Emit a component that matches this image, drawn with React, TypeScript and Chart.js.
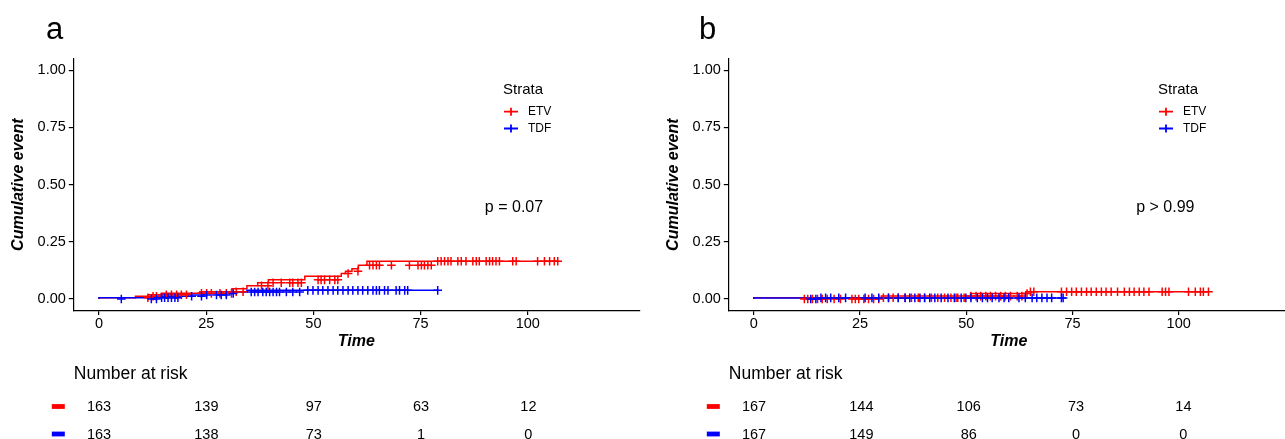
import React, { useEffect, useRef } from "react";
import { Chart, registerables } from "chart.js";

Chart.register(...registerables);

const FONT = "'Liberation Sans', Arial, Helvetica, sans-serif";
const RED = "#FF0000";
const BLUE = "#0000FF";

// ---------- shared ----------
const timeTicks = [0, 25, 50, 75, 100];
const yTicks = [0, 0.25, 0.5, 0.75, 1];
const strata = ["ETV", "TDF"];
const strataColors = [RED, BLUE];
const pCoord = [90, 0.4];

// ---------- panel a ----------
const etvA_stepTimes = [0, 8.5, 11.5, 14.5, 23.5, 31, 34.5, 37, 39.5, 48, 56.5, 57.5, 59, 60.5, 62.5, 78.5];
const etvA_stepCum = [0, 0.006, 0.012, 0.019, 0.025, 0.032, 0.045, 0.058, 0.071, 0.084, 0.1, 0.112, 0.122, 0.132, 0.148, 0.165];
const etvA_censor = [11.4, 12.6, 13.4, 15.7, 16.9, 18.1, 19.2, 20.4, 23.9, 25.1, 26.2, 28.2, 29.7, 30.9, 32, 33.6, 37.9, 39.4, 40.6, 42.5, 44.5, 45.2, 46.4, 47.2, 51.1, 51.8, 52.6, 53.8, 55, 55.7, 58.1, 60.4, 63.1, 63.9, 64.7, 65.4, 68.2, 72.4, 74.4, 75.2, 75.9, 76.7, 77.5, 79, 79.8, 80.6, 81.4, 82.1, 83.7, 84.5, 85.6, 87.2, 88, 88.7, 90.3, 91.1, 91.8, 92.6, 93.4, 96.5, 97.3, 102.3, 103.9, 105.1, 106.2, 107];

const tdfA_stepTimes = [0, 14, 21.5, 24.5, 31, 34.5, 48];
const tdfA_stepCum = [0, 0.006, 0.012, 0.018, 0.024, 0.031, 0.038];
const tdfA_censor = [5.2, 12.2, 13.4, 14.6, 15.3, 16.1, 16.9, 17.7, 18.4, 21.6, 23.9, 25.1, 27.4, 28.5, 29.7, 31.3, 35.5, 36.3, 37.1, 38.2, 39, 39.8, 40.6, 41.4, 42.1, 43.7, 45.2, 46.8, 48.7, 49.9, 51.1, 52.2, 53.4, 54.6, 55.7, 56.9, 58.1, 59.2, 60.4, 61.5, 62.7, 63.9, 64.7, 65.4, 66.6, 67.4, 69.3, 70.1, 71.3, 72, 79];

const riskA_ETV = [163, 139, 97, 63, 12];
const riskA_TDF = [163, 138, 73, 1, 0];
const pTextA = "p = 0.07";

// ---------- panel b ----------
const etvB_stepTimes = [0, 30, 51, 64, 65];
const etvB_stepCum = [0, 0.006, 0.013, 0.024, 0.032];
const etvB_censor = [11.9, 12.7, 13.8, 15, 16.1, 17.3, 18.9, 20.4, 23.1, 23.9, 24.7, 25.9, 27, 28.2, 29.4, 30.5, 31.7, 32.8, 34, 35.6, 37.1, 38.7, 40.2, 41.8, 43.3, 44.9, 46.4, 47.6, 48, 49.5, 51.1, 52.3, 53.4, 54.6, 55.7, 56.9, 58.1, 59.2, 60.4, 62, 63.1, 64.3, 65.1, 65.9, 72.4, 73.6, 74.8, 75.9, 77.1, 78.3, 79.4, 80.6, 81.8, 82.9, 84.1, 85.6, 87.2, 88.4, 89.5, 90.7, 91.8, 93, 96.1, 96.9, 97.7, 102.3, 103.9, 105.1, 105.8, 107];

const tdfB_stepTimes = [0, 15];
const tdfB_stepCum = [0, 0.005];
const tdfB_censor = [13.4, 14.6, 15.8, 16.9, 18.1, 20, 21.6, 26.2, 27.8, 29.4, 31.7, 34, 35.6, 36.7, 37.9, 39.1, 40.2, 41.4, 42.6, 44.1, 45.7, 47.2, 48.8, 49.9, 51.1, 52.6, 53.8, 55, 56.1, 57.7, 58.9, 60, 62.4, 63.9, 65.5, 66.6, 67.8, 69, 70.1, 72.4, 72.8];

const riskB_ETV = [167, 144, 106, 73, 14];
const riskB_TDF = [167, 149, 86, 0, 0];
const pTextB = "p > 0.99";

// ---------- helpers ----------
function stepAt(times: number[], cum: number[], t: number) {
  let v = cum[0];
  for (let i = 0; i < times.length; i++) if (times[i] <= t) v = cum[i];
  return v;
}
function lineData(times: number[], cum: number[], censor: number[]) {
  const pts = times.map((t, i) => ({ x: t, y: cum[i] }));
  const end = Math.max(...censor);
  pts.push({ x: end, y: cum[cum.length - 1] });
  return pts;
}
function censorData(times: number[], cum: number[], censor: number[]) {
  return censor.map((t) => ({ x: t, y: stepAt(times, cum, t) }));
}

type Curve = { times: number[]; cum: number[]; censor: number[] };

type PanelProps = {
  left: number;
  width: number;
  padRight: number;
  letter: string;
  letterX: number;
  etv: Curve;
  tdf: Curve;
  pText: string;
  riskETV: number[];
  riskTDF: number[];
};

const MAIN_H = 360;
const Y_AXIS_W = 73.3;
const AREA_TOP = 58.8;
const AREA_BOTTOM = 310.5;
const RISK_TOP = 355;
const RISK_H = 100;

function Panel(p: PanelProps) {
  const mainRef = useRef<HTMLCanvasElement>(null);
  const riskRef = useRef<HTMLCanvasElement>(null);

  useEffect(() => {
    const annot = {
      id: "annot",
      afterDraw(chart: any) {
        const ctx = chart.ctx;
        ctx.save();
        ctx.fillStyle = "#000";
        ctx.textAlign = "left";
        ctx.textBaseline = "alphabetic";
        ctx.font = `31px ${FONT}`;
        ctx.fillText(p.letter, p.letterX, 38.5);

        ctx.textBaseline = "middle";
        ctx.font = `15px ${FONT}`;
        ctx.fillText("Strata", 503, 90);
        strata.forEach((s, i) => {
          const y = 111.7 + i * 16.8;
          ctx.strokeStyle = strataColors[i];
          ctx.lineWidth = 1.8;
          ctx.beginPath();
          ctx.moveTo(504, y);
          ctx.lineTo(518, y);
          ctx.moveTo(511, y - 4);
          ctx.lineTo(511, y + 4);
          ctx.stroke();
          ctx.fillStyle = "#000";
          ctx.font = `12px ${FONT}`;
          ctx.fillText(s, 528, y);
        });

        const xs = chart.scales.x;
        const ys = chart.scales.y;
        ctx.font = `16px ${FONT}`;
        ctx.fillText(p.pText, xs.getPixelForValue(pCoord[0]), ys.getPixelForValue(pCoord[1]));
        ctx.restore();
      },
    };

    const axisGrid = {
      display: true,
      drawOnChartArea: false,
      drawTicks: true,
      tickLength: 4.5,
      color: "#000",
      lineWidth: 1.2,
    };

    const main = new Chart(mainRef.current as HTMLCanvasElement, {
      type: "scatter",
      data: {
        datasets: [
          {
            label: "TDF censor",
            data: censorData(p.tdf.times, p.tdf.cum, p.tdf.censor),
            showLine: false,
            pointStyle: "cross",
            pointRadius: 4.3,
            pointBorderWidth: 1.5,
            borderColor: BLUE,
            backgroundColor: BLUE,
          },
          {
            label: "ETV censor",
            data: censorData(p.etv.times, p.etv.cum, p.etv.censor),
            showLine: false,
            pointStyle: "cross",
            pointRadius: 4.3,
            pointBorderWidth: 1.5,
            borderColor: RED,
            backgroundColor: RED,
          },
          {
            label: "TDF",
            data: lineData(p.tdf.times, p.tdf.cum, p.tdf.censor),
            showLine: true,
            stepped: "after",
            pointRadius: 0,
            borderWidth: 1.5,
            borderColor: BLUE,
          },
          {
            label: "ETV",
            data: lineData(p.etv.times, p.etv.cum, p.etv.censor),
            showLine: true,
            stepped: "after",
            pointRadius: 0,
            borderWidth: 1.5,
            borderColor: RED,
          },
        ],
      },
      options: {
        responsive: false,
        animation: false,
        events: [],
        layout: { padding: { top: AREA_TOP, right: p.padRight, bottom: 0, left: 0 } },
        plugins: { legend: { display: false }, tooltip: { enabled: false }, title: { display: false } },
        scales: {
          x: {
            type: "linear",
            min: -6,
            max: 126,
            afterBuildTicks: (s: any) => {
              s.ticks = timeTicks.map((v) => ({ value: v }));
            },
            afterFit: (s: any) => {
              s.height = MAIN_H - AREA_BOTTOM;
            },
            border: { display: true, color: "#000", width: 1.2 },
            grid: axisGrid,
            ticks: { color: "#000", font: { family: FONT, size: 14.5 }, padding: 0.5, maxRotation: 0, callback: (v: any) => String(v) },
            title: {
              display: true,
              text: "Time",
              color: "#000",
              font: { family: FONT, size: 16, style: "italic", weight: "bold" },
              padding: { top: 0, bottom: 8.9 },
            },
          },
          y: {
            type: "linear",
            min: -0.05,
            max: 1.05,
            afterBuildTicks: (s: any) => {
              s.ticks = yTicks.map((v) => ({ value: v }));
            },
            afterFit: (s: any) => {
              s.width = Y_AXIS_W;
            },
            border: { display: true, color: "#000", width: 1.2 },
            grid: axisGrid,
            ticks: { color: "#000", font: { family: FONT, size: 14.5 }, padding: 3, callback: (v: any) => Number(v).toFixed(2) },
            title: {
              display: true,
              text: "Cumulative event",
              color: "#000",
              font: { family: FONT, size: 16, style: "italic", weight: "bold" },
              padding: { top: 9.4, bottom: 0 },
            },
          },
        },
      },
      plugins: [annot],
    } as any);

    const riskCounts = [p.riskETV, p.riskTDF];
    const riskPlugin = {
      id: "riskText",
      afterDraw(chart: any) {
        const ctx = chart.ctx;
        const area = chart.chartArea;
        ctx.save();
        ctx.fillStyle = "#000";
        ctx.textAlign = "left";
        ctx.textBaseline = "middle";
        ctx.font = `17.5px ${FONT}`;
        ctx.fillText("Number at risk", area.left + 0.5, 19);
        chart.data.datasets.forEach((ds: any, di: number) => {
          const meta = chart.getDatasetMeta(di);
          const y = meta.data[0].y;
          ctx.fillStyle = strataColors[di];
          ctx.fillRect(area.left - 21.5, y - 2.4, 13, 4.8);
          ctx.fillStyle = "#000";
          ctx.font = `14.5px ${FONT}`;
          ctx.textAlign = "center";
          meta.data.forEach((pt: any, i: number) => {
            ctx.fillText(String(riskCounts[di][i]), pt.x, pt.y + 0.5);
          });
        });
        ctx.restore();
      },
    };

    // rows: ETV at value 2 -> page y 406.5, TDF at value 1 -> page y 434
    const risk = new Chart(riskRef.current as HTMLCanvasElement, {
      type: "scatter",
      data: {
        datasets: strata.map((s, i) => ({
          label: s,
          data: timeTicks.map((t) => ({ x: t, y: 2 - i })),
          pointRadius: 0,
          showLine: false,
        })),
      },
      options: {
        responsive: false,
        animation: false,
        events: [],
        layout: { padding: { top: 37.75, bottom: RISK_H - 92.75, left: Y_AXIS_W, right: p.padRight } },
        plugins: { legend: { display: false }, tooltip: { enabled: false } },
        scales: {
          x: { type: "linear", min: -6, max: 126, display: false },
          y: { type: "linear", min: 0.5, max: 2.5, display: false },
        },
      },
      plugins: [riskPlugin],
    } as any);

    return () => {
      main.destroy();
      risk.destroy();
    };
  }, []);

  return (
    <>
      <canvas
        ref={mainRef}
        width={p.width}
        height={MAIN_H}
        style={{ position: "absolute", left: p.left, top: 0, width: p.width, height: MAIN_H }}
      />
      <canvas
        ref={riskRef}
        width={p.width}
        height={RISK_H}
        style={{ position: "absolute", left: p.left, top: RISK_TOP, width: p.width, height: RISK_H }}
      />
    </>
  );
}

export default function App() {
  return (
    <div
      style={{
        position: "fixed",
        left: 0,
        top: 0,
        width: 1285,
        height: 439,
        overflow: "hidden",
        background: "#fff",
      }}
    >
      <Panel
        left={0}
        width={645}
        padRight={5}
        letter="a"
        letterX={46}
        etv={{ times: etvA_stepTimes, cum: etvA_stepCum, censor: etvA_censor }}
        tdf={{ times: tdfA_stepTimes, cum: tdfA_stepCum, censor: tdfA_censor }}
        pText={pTextA}
        riskETV={riskA_ETV}
        riskTDF={riskA_TDF}
      />
      <Panel
        left={655}
        width={640}
        padRight={0}
        letter="b"
        letterX={44}
        etv={{ times: etvB_stepTimes, cum: etvB_stepCum, censor: etvB_censor }}
        tdf={{ times: tdfB_stepTimes, cum: tdfB_stepCum, censor: tdfB_censor }}
        pText={pTextB}
        riskETV={riskB_ETV}
        riskTDF={riskB_TDF}
      />
    </div>
  );
}
